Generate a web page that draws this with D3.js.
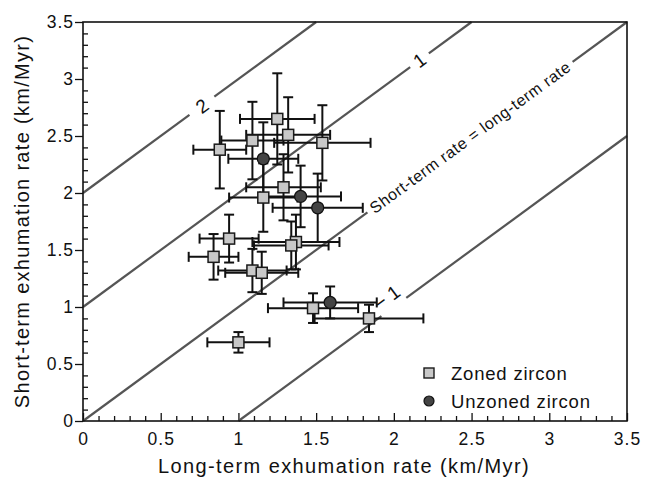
<html>
<head>
<style>
  body { margin: 0; background: #fff; }
  svg { font-family: "Liberation Sans", Arial, sans-serif; }
  .tick text { font-size: 17.5px; fill: #111; letter-spacing: 1px; }
  .domain { display: none; }
</style>
</head>
<body>
<script src="https://cdn.jsdelivr.net/npm/d3@7"></script>
<script>
// zoned zircon
var zonedX    = [1.25, 1.32, 1.09, 1.54, 0.88, 1.29, 1.16, 0.94, 0.84, 1.37, 1.34, 1.09, 1.15, 1.48, 1.84, 1.00];
var zonedY    = [2.65, 2.51, 2.46, 2.44, 2.38, 2.05, 1.96, 1.60, 1.44, 1.57, 1.54, 1.32, 1.30, 0.99, 0.90, 0.69];
var zonedXErr = [0.24, 0.27, 0.20, 0.31, 0.17, 0.24, 0.22, 0.19, 0.16, 0.28, 0.24, 0.22, 0.235, 0.29, 0.35, 0.20];
var zonedYErr = [0.40, 0.33, 0.34, 0.33, 0.34, 0.29, 0.30, 0.21, 0.20, 0.24, 0.21, 0.19, 0.185, 0.13, 0.12, 0.09];
// unzoned zircon
var unzonedX    = [1.16, 1.40, 1.51, 1.59];
var unzonedY    = [2.30, 1.97, 1.87, 1.04];
var unzonedXErr = [0.225, 0.26, 0.29, 0.30];
var unzonedYErr = [0.32, 0.27, 0.30, 0.14];

// reference lines: short-term = long-term + offset
var lineOffsets = [2, 1, 0, -1];
var lineLabels  = ["2", "1", "Short-term rate = long-term rate", "\u2212 1"];
var labelAt     = [0.765, 2.165, 2.49, 2.0];      // long-term rate where label sits
var labelGap    = [0.08, 0.06, 0.66, 0.08];       // half gap in line around label
var labelShift  = [0, 0, 0, -12];                 // label offset across the line, px

var tickVals = d3.range(0, 36).map(function(i){ return i / 10; });

var W = 645, H = 490;
var x = d3.scaleLinear().domain([0, 3.5]).range([83, 627]);
var y = d3.scaleLinear().domain([0, 3.5]).range([421, 22]);

var svg = d3.select("body").append("svg").attr("width", W).attr("height", H);

function fmt(d) {
  var r = Math.round(d * 10);
  if (r % 5 != 0) return "";
  return d3.format("")(r / 10);
}

// axes
var gx = svg.append("g").attr("transform", "translate(0," + y(0) + ")")
  .call(d3.axisBottom(x).tickValues(tickVals).tickFormat(fmt).tickSizeInner(-5).tickSizeOuter(0).tickPadding(12));
var gy = svg.append("g").attr("transform", "translate(" + x(0) + ",0)")
  .call(d3.axisLeft(y).tickValues(tickVals).tickFormat(fmt).tickSizeInner(-5).tickSizeOuter(0).tickPadding(9));
[gx, gy].forEach(function(g) {
  g.selectAll(".tick line").attr("stroke", "#111").attr("stroke-width", 1.3)
    .filter(function(d){ return Math.round(d * 10) % 5 == 0; })
    .attr(g === gx ? "y2" : "x2", -8);
});
gx.selectAll(".tick text").attr("dy", "0.71em");

// reference lines
var ang = -Math.atan2(y(0) - y(1), x(1) - x(0)) * 180 / Math.PI;
var lines = svg.append("g");
lineOffsets.forEach(function(k, i) {
  var x0 = Math.max(0, -k), x1 = Math.min(3.5, 3.5 - k);
  var segs = [[x0, labelAt[i] - labelGap[i]], [labelAt[i] + labelGap[i], x1]];
  segs.forEach(function(s) {
    lines.append("line")
      .attr("x1", x(s[0])).attr("y1", y(s[0] + k))
      .attr("x2", x(s[1])).attr("y2", y(s[1] + k))
      .attr("stroke", "#555").attr("stroke-width", 2.2);
  });
  var lx = x(labelAt[i]), ly = y(labelAt[i] + k);
  lines.append("text")
    .attr("transform", "translate(" + lx + "," + ly + ") rotate(" + ang + ") translate(0," + labelShift[i] + ")")
    .attr("text-anchor", "middle").attr("dy", "0.36em")
    .attr("font-size", i == 2 ? 16 : 19)
    .attr("letter-spacing", i == 2 ? 0.6 : 0)
    .attr("fill", "#111")
    .text(lineLabels[i]);
});

// error bars
function bars(xs, ys, xe, ye) {
  var g = svg.append("g").attr("stroke", "#111").attr("stroke-width", 2);
  xs.forEach(function(d, i) {
    var cx = x(d), cy = y(ys[i]);
    var xl = x(d - xe[i]), xr = x(d + xe[i]);
    var yt = y(ys[i] + ye[i]), yb = y(ys[i] - ye[i]);
    g.append("line").attr("x1", xl).attr("x2", xr).attr("y1", cy).attr("y2", cy);
    g.append("line").attr("x1", cx).attr("x2", cx).attr("y1", yt).attr("y2", yb);
    [xl, xr].forEach(function(v) {
      g.append("line").attr("x1", v).attr("x2", v).attr("y1", cy - 5).attr("y2", cy + 5);
    });
    [yt, yb].forEach(function(v) {
      g.append("line").attr("x1", cx - 5).attr("x2", cx + 5).attr("y1", v).attr("y2", v);
    });
  });
}
bars(zonedX, zonedY, zonedXErr, zonedYErr);
bars(unzonedX, unzonedY, unzonedXErr, unzonedYErr);

// markers
svg.append("g").selectAll("rect").data(zonedX).enter().append("rect")
  .attr("x", function(d){ return x(d) - 5.5; })
  .attr("y", function(d, i){ return y(zonedY[i]) - 5.5; })
  .attr("width", 11).attr("height", 11)
  .attr("fill", "#c8c8c8").attr("stroke", "#1a1a1a").attr("stroke-width", 1.5);
svg.append("g").selectAll("circle").data(unzonedX).enter().append("circle")
  .attr("cx", function(d){ return x(d); })
  .attr("cy", function(d, i){ return y(unzonedY[i]); })
  .attr("r", 6)
  .attr("fill", "#444").attr("stroke", "#111").attr("stroke-width", 1.3);

// frame
svg.append("rect").attr("x", x(0)).attr("y", y(3.5))
  .attr("width", x(3.5) - x(0)).attr("height", y(0) - y(3.5))
  .attr("fill", "none").attr("stroke", "#111").attr("stroke-width", 1.6);

// legend
var lg = svg.append("g");
lg.append("rect").attr("x", 424).attr("y", 368).attr("width", 10).attr("height", 10)
  .attr("fill", "#c8c8c8").attr("stroke", "#1a1a1a").attr("stroke-width", 1.4);
lg.append("circle").attr("cx", 429).attr("cy", 401).attr("r", 5)
  .attr("fill", "#444").attr("stroke", "#111").attr("stroke-width", 1.2);
lg.append("text").attr("x", 451).attr("y", 380).attr("font-size", 18.5).attr("letter-spacing", 0.8)
  .attr("fill", "#111").text("Zoned zircon");
lg.append("text").attr("x", 451).attr("y", 408).attr("font-size", 18.5).attr("letter-spacing", 0.8)
  .attr("fill", "#111").text("Unzoned zircon");

// axis titles
svg.append("text").attr("x", 344).attr("y", 473)
  .attr("text-anchor", "middle").attr("font-size", 20).attr("letter-spacing", 1.4)
  .attr("fill", "#111").text("Long-term exhumation rate (km/Myr)");
svg.append("text").attr("transform", "translate(29," + (y(0) + y(3.5)) / 2 + ") rotate(-90)")
  .attr("text-anchor", "middle").attr("font-size", 20).attr("letter-spacing", 1.3)
  .attr("fill", "#111").text("Short-term exhumation rate (km/Myr)");
</script>
</body>
</html>
